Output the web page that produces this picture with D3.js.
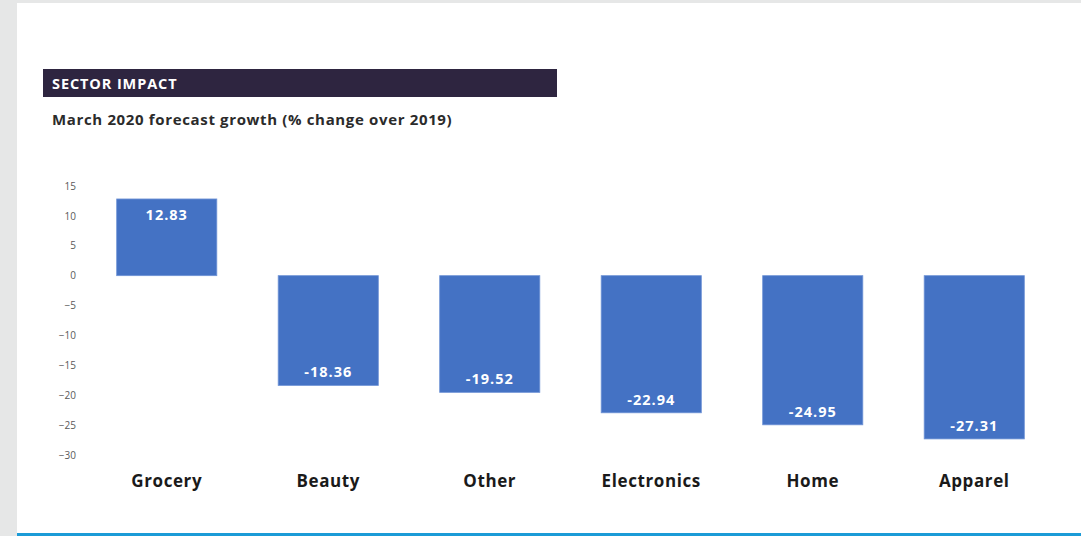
<!DOCTYPE html>
<html>
<head>
<meta charset="utf-8">
<script src="https://cdn.jsdelivr.net/npm/d3@7"></script>
<style>
  body { margin: 0; background: #e6e7e7; }
  svg { display: block; font-family: "Open Sans", sans-serif; }
</style>
</head>
<body>
<svg id="chart"></svg>
<script>
// data
const sectors = ["Grocery", "Beauty", "Other", "Electronics", "Home", "Apparel"];
const growth = [12.83, -18.36, -19.52, -22.94, -24.95, -27.31];
const yTicks = [15, 10, 5, 0, -5, -10, -15, -20, -25, -30];

const width = 1081, height = 536;

const svg = d3.select("#chart")
  .attr("width", width)
  .attr("height", height);

// page panel
svg.append("rect")
  .attr("x", 17).attr("y", 3)
  .attr("width", width - 17).attr("height", height - 3)
  .attr("fill", "#ffffff");

svg.append("rect")
  .attr("x", 17).attr("y", 533)
  .attr("width", width - 17).attr("height", 3)
  .attr("fill", "#1b9bd7");

// header bar
svg.append("rect")
  .attr("x", 43).attr("y", 69)
  .attr("width", 514).attr("height", 28)
  .attr("fill", "#2e2540");

svg.append("text")
  .attr("x", 52).attr("y", 88.5)
  .attr("fill", "#ffffff")
  .style("font-size", "14.5px")
  .style("font-weight", "bold")
  .style("letter-spacing", "0.9px")
  .text("SECTOR IMPACT");

svg.append("text")
  .attr("x", 52).attr("y", 125)
  .attr("fill", "#2b2b2b")
  .style("font-size", "15px")
  .style("font-weight", "bold")
  .style("letter-spacing", "0.65px")
  .text("March 2020 forecast growth (% change over 2019)");

// scales
const x = d3.scaleBand()
  .domain(sectors)
  .range([86, 1055])
  .paddingInner(0.38)
  .paddingOuter(0.19);

const y = d3.scaleLinear()
  .domain([-30, 15])
  .range([455, 186]);

// y axis (labels only)
const yAxis = d3.axisLeft(y)
  .tickValues(yTicks)
  .tickSize(0)
  .tickPadding(0);

const yg = svg.append("g")
  .attr("transform", "translate(76,0)")
  .call(yAxis);
yg.select(".domain").remove();
yg.selectAll("text")
  .attr("fill", "#595959")
  .style("font-family", "'Open Sans', sans-serif")
  .style("font-size", "10px");

// bars
const data = sectors.map((s, i) => ({ sector: s, value: growth[i] }));

svg.selectAll("rect.bar")
  .data(data)
  .enter().append("rect")
  .attr("class", "bar")
  .attr("x", d => x(d.sector))
  .attr("width", x.bandwidth())
  .attr("y", d => y(Math.max(0, d.value)))
  .attr("height", d => Math.abs(y(d.value) - y(0)))
  .attr("fill", "#4472c4")
  .attr("stroke", "#6f93d6")
  .attr("stroke-width", 0.8);

// value labels inside the bars
svg.selectAll("text.val")
  .data(data)
  .enter().append("text")
  .attr("class", "val")
  .attr("x", d => x(d.sector) + x.bandwidth() / 2)
  .attr("y", d => d.value >= 0 ? y(d.value) + 21 : y(d.value) - 8)
  .attr("text-anchor", "middle")
  .attr("fill", "#ffffff")
  .style("font-size", "14.5px")
  .style("font-weight", "bold")
  .style("letter-spacing", "1px")
  .text(d => d.value.toFixed(2));

// category labels
const xAxis = d3.axisBottom(x).tickSize(0).tickPadding(0);
const xg = svg.append("g")
  .attr("transform", "translate(0,475)")
  .call(xAxis);
xg.select(".domain").remove();
xg.selectAll("text")
  .attr("fill", "#1a1a1a")
  .style("font-family", "'Open Sans', sans-serif")
  .style("font-size", "17px")
  .style("font-weight", "bold")
  .style("letter-spacing", "0.6px");
</script>
</body>
</html>
